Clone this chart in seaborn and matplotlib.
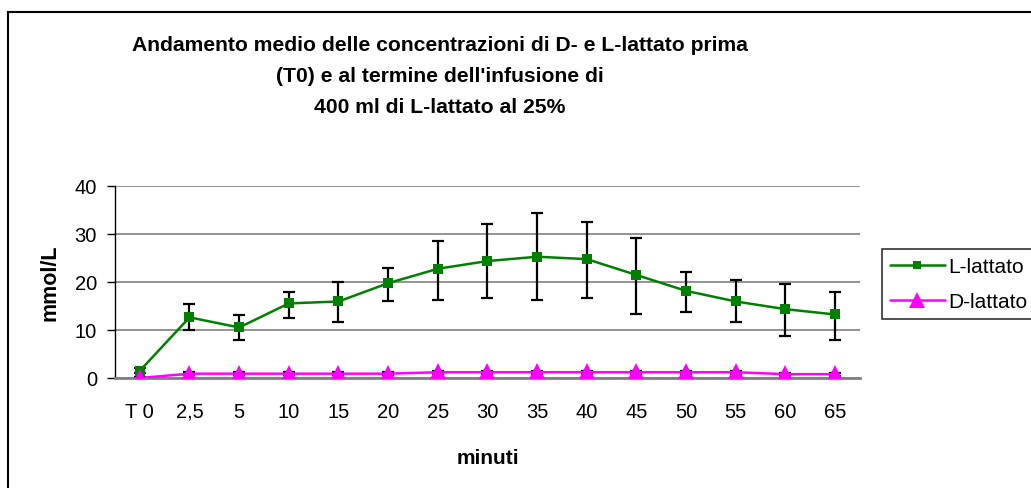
import numpy as np
import pandas as pd
import matplotlib
matplotlib.use("Agg")
import matplotlib.pyplot as plt
import seaborn as sns
from matplotlib.patches import Rectangle
from matplotlib.lines import Line2D

categories = ["T 0", "2,5", "5", "10", "15", "20", "25", "30", "35", "40", "45", "50", "55", "60", "65"]
l_mean = [1.5, 12.6, 10.5, 15.5, 15.9, 19.7, 22.7, 24.3, 25.2, 24.7, 21.4, 18.1, 15.9, 14.3, 13.2]
l_upper = [2.0, 15.4, 13.0, 17.9, 20.0, 22.9, 28.4, 32.1, 34.2, 32.5, 29.1, 22.0, 20.4, 19.6, 17.9]
l_lower = [1.0, 10.0, 8.0, 12.5, 11.7, 15.9, 16.3, 16.7, 16.3, 16.7, 13.4, 13.8, 11.7, 8.8, 8.0]
d_mean = [0.0, 0.9, 0.9, 0.9, 0.9, 0.9, 1.2, 1.2, 1.2, 1.2, 1.2, 1.2, 1.2, 0.8, 0.8]
d_err = [0.3, 0.3, 0.3, 0.3, 0.3, 0.3, 0.3, 0.3, 0.3, 0.3, 0.3, 0.3, 0.3, 0.3, 0.3]

series_names = ["L-lattato", "D-lattato"]
title = "Andamento medio delle concentrazioni di D- e L-lattato prima\n(T0) e al termine dell'infusione di\n400 ml di L-lattato al 25%"

sns.set_theme(style="white")
plt.rcParams['font.family'] = ['Liberation Sans', 'DejaVu Sans']
plt.rcParams.update({"text.color": "black", "axes.labelcolor": "black",
                     "xtick.color": "black", "ytick.color": "black"})

W, H = 1031, 489
fig = plt.figure(figsize=(W / 100, H / 100), dpi=100)
ax = fig.add_axes([115 / W, 1 - 379 / H, (860 - 115) / W, (379 - 186.5) / H])

pos = np.arange(len(categories))
df = pd.DataFrame({
    "pos": np.concatenate([pos, pos]),
    "value": l_mean + d_mean,
    "serie": [series_names[0]] * len(pos) + [series_names[1]] * len(pos),
})

# error bars
ax.errorbar(pos, l_mean,
            yerr=[np.array(l_mean) - np.array(l_lower), np.array(l_upper) - np.array(l_mean)],
            fmt="none", ecolor="black", elinewidth=1.6, capsize=4.5, capthick=1.6, zorder=2)
ax.errorbar(pos, d_mean, yerr=d_err, fmt="none", ecolor="black",
            elinewidth=1.6, capsize=4.5, capthick=1.6, zorder=2)

sns.lineplot(data=df, x="pos", y="value", hue="serie", style="serie",
             palette={"L-lattato": "#008000", "D-lattato": "#FF00FF"},
             markers={"L-lattato": "s", "D-lattato": "^"},
             dashes=False, linewidth=1.8, markersize=6.5, markeredgewidth=0,
             ax=ax, legend=False, zorder=3)
for line in ax.lines:
    if line.get_marker() == "^":
        line.set_markersize(13)

ax.set_xlim(-0.5, len(categories) - 0.5)
ax.set_ylim(0, 40)
ax.set_yticks([0, 10, 20, 30, 40])
ax.set_xticks(pos)
ax.set_xticklabels(categories)
ax.set_xticks(np.arange(-0.5, len(categories)), minor=True)
ax.tick_params(axis="x", which="major", length=0, labelsize=14.5, pad=17, colors="black")
ax.tick_params(axis="x", which="minor", length=6, width=1, color="black", direction="out")
ax.tick_params(axis="y", length=6, width=1, color="black", labelcolor="black",
               labelsize=14.5, pad=7, left=True)

ax.grid(axis="y", color="#808080", linewidth=1.2)
ax.grid(axis="x", visible=False)
ax.set_axisbelow(True)
for s in ["top", "right"]:
    ax.spines[s].set_visible(False)
ax.spines["left"].set_color("black")
ax.spines["left"].set_linewidth(1)
ax.spines["bottom"].set_color("#808080")
ax.spines["bottom"].set_linewidth(2)

ax.set_xlabel("minuti", fontsize=15, fontweight="bold", labelpad=20, color="black")
ax.set_ylabel("mmol/L", fontsize=15.5, fontweight="bold", labelpad=10, color="black")

fig.text(440 / W, 1 - 36 / H, title, ha="center", va="top", fontsize=15.2,
         fontweight="bold", linespacing=1.8, color="black")

handles = [
    Line2D([], [], color="#008000", marker="s", markersize=6, markeredgewidth=0, linewidth=1.8),
    Line2D([], [], color="#FF00FF", marker="^", markersize=12, markeredgewidth=0, linewidth=1.8),
]
leg = fig.legend(handles, series_names, loc="upper left",
                 bbox_to_anchor=(882 / W, 1 - 250 / H), borderaxespad=0,
                 fontsize=15, frameon=True, fancybox=False, handlelength=2.6,
                 handletextpad=0.2, borderpad=0.4, labelspacing=0.75,
                 labelcolor="black")
leg.get_frame().set_edgecolor("black")
leg.get_frame().set_linewidth(1.2)

fig.patches.append(Rectangle((8 / W, -0.2), 1.2, (H - 13) / H + 0.2,
                             transform=fig.transFigure, fill=False,
                             edgecolor="black", linewidth=1.5, clip_on=False))

fig.savefig("out.png", dpi=100, facecolor="white")
